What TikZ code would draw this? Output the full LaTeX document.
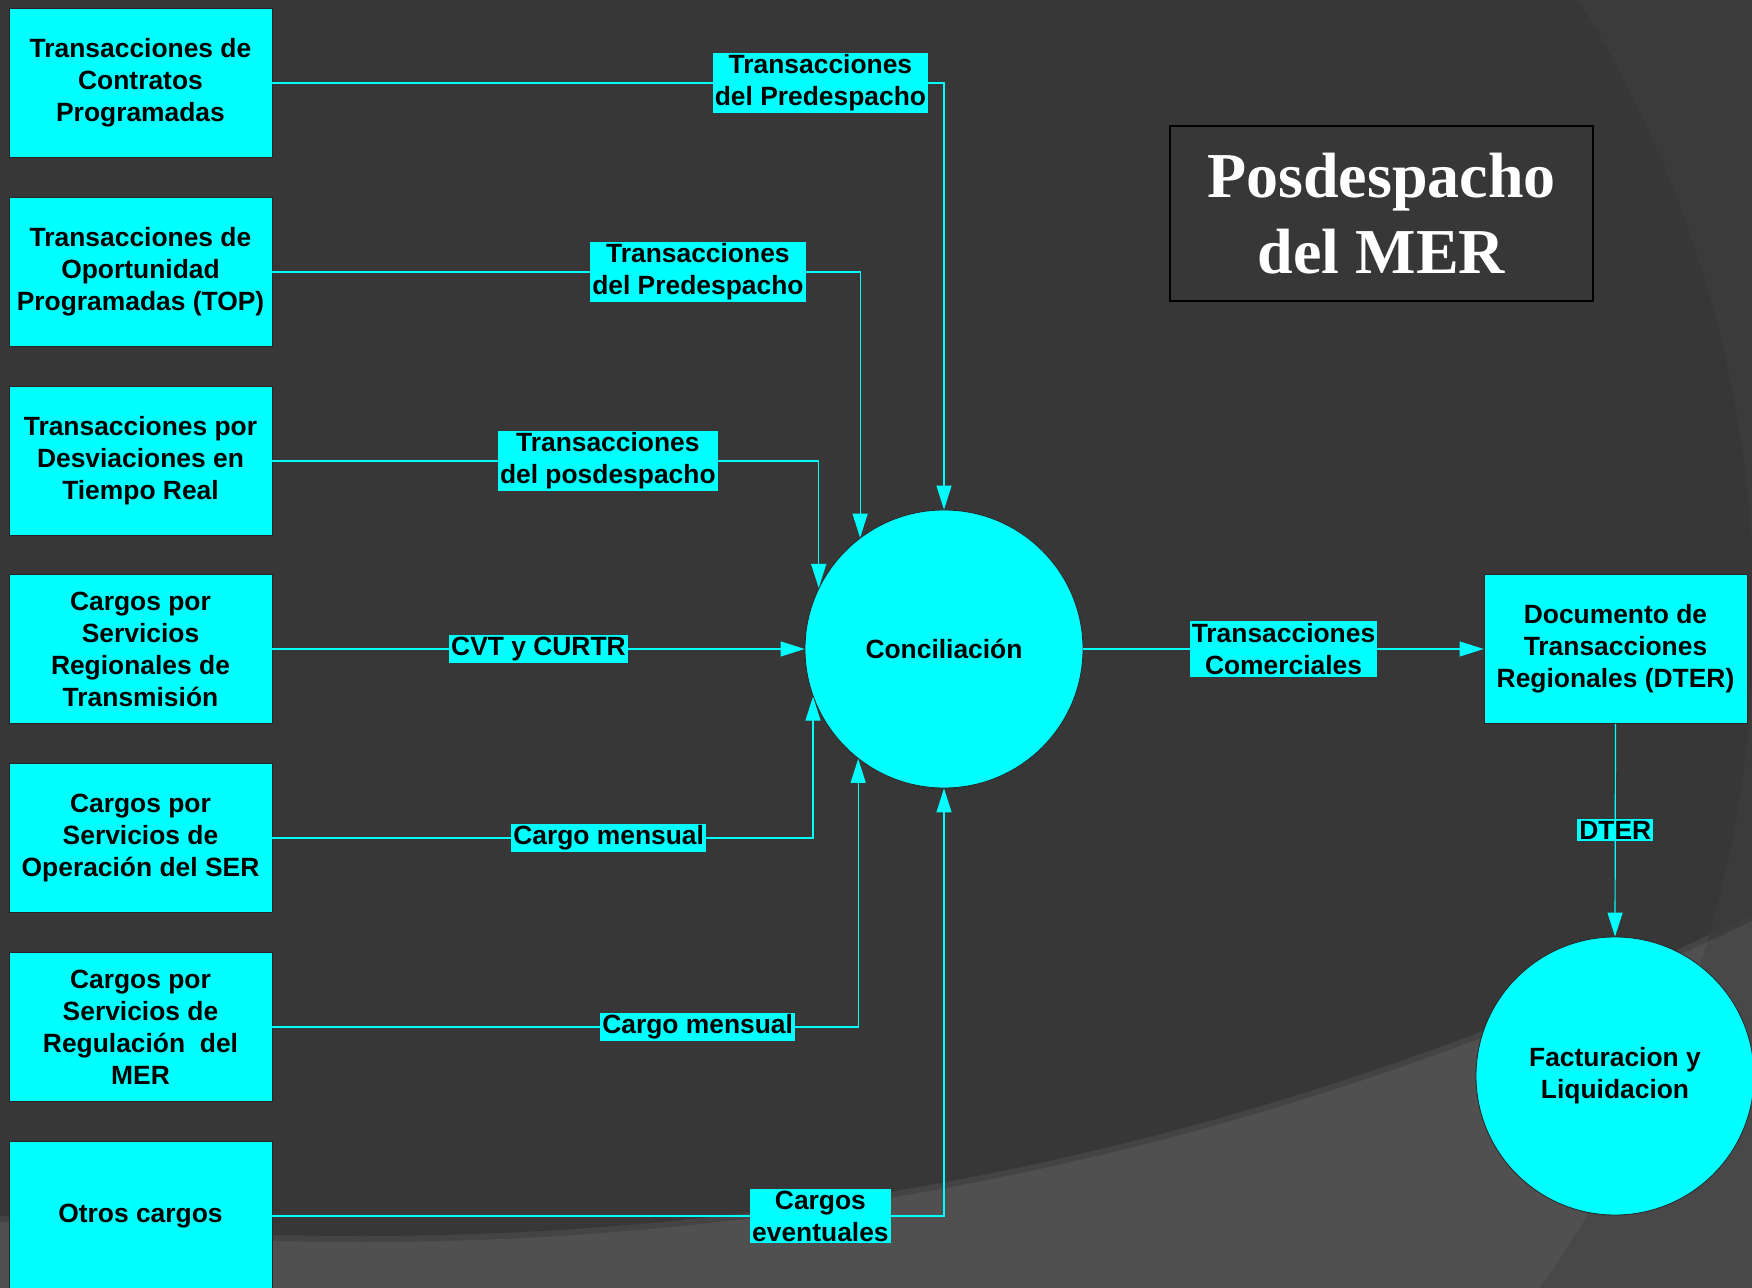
\documentclass[tikz,border=0pt]{standalone}
\usepackage{fontspec}
\setmainfont{Liberation Sans}
\newfontfamily\titlefont{Liberation Serif}
\usepackage{tikz}
\usetikzlibrary{arrows.meta}
\definecolor{aqua}{RGB}{0,255,255}
\definecolor{fondo}{RGB}{55,55,55}
\definecolor{fondoclaro}{RGB}{80,80,80}
\definecolor{fondoarco}{RGB}{59,59,59}
\definecolor{fondoesq}{RGB}{72,72,72}
\newcommand{\txt}{\fontsize{13.2}{16}\selectfont\bfseries}

\tikzset{
  caja/.style={draw=black!85, fill=aqua, minimum width=131.5pt, minimum height=74.5pt,
    inner sep=2pt, align=center, font=\txt},
  proceso/.style={circle, draw=black!85, fill=aqua, minimum size=139pt, inner sep=0pt,
    align=center, font=\txt},
  etiqueta/.style={fill=aqua, text=black, inner sep=1pt, align=center, font=\txt},
  flujo/.style={aqua, line width=0.6pt, -{Triangle[length=12pt,width=7.5pt]}}
}

\begin{document}
\begin{tikzpicture}[x=0.5pt,y=-0.5pt]
  \useasboundingbox (0,0) rectangle (1752,1288);
  % fondo
  \begin{scope}
    \clip (0,0) rectangle (1752,1288);
    \fill[fondoclaro] (0,0) rectangle (1752,1288);
    \fill[fondoesq, even odd rule] (0,0) rectangle (1752,1288) (590,615) circle[radius=1164];
    \fill[fondo] (361,-1921) circle[radius=3157];
    \draw[black, opacity=0.15, line width=3pt] (361,-1921) circle[radius=3160];
    \clip (361,-1921) circle[radius=3157];
    \fill[fondoarco, even odd rule] (0,0) rectangle (1752,1288) (590,615) circle[radius=1164];
  \end{scope}

  % cajas de entrada
  \node[caja] (tcp) at (140.5,83) {Transacciones de\\Contratos\\Programadas};
  \node[caja] (top) at (140.5,272) {Transacciones de\\Oportunidad\\Programadas (TOP)};
  \node[caja] (tdr) at (140.5,461) {Transacciones por\\Desviaciones en\\Tiempo Real};
  \node[caja] (csr) at (140.5,649) {Cargos por\\Servicios\\Regionales de\\Transmisión};
  \node[caja] (cso) at (140.5,838) {Cargos por\\Servicios de\\Operación del SER};
  \node[caja] (csm) at (140.5,1027) {Cargos por\\Servicios de\\Regulación~~del\\MER};
  \node[caja] (otros) at (140.5,1216) {Otros cargos};

  \node[proceso] (conc) at (944,649) {Conciliación};
  \node[caja] (dter) at (1615.5,649) {Documento de\\Transacciones\\Regionales (DTER)};
  \node[proceso] (fact) at (1615,1076) {Facturacion y\\Liquidacion};

  \node[draw=black, line width=1pt, minimum width=211.5pt, minimum height=87.5pt,
    text=white, align=center, font=\titlefont\fontsize{32}{38}\selectfont\bfseries]
    (titulo) at (1381.5,213.5) {Posdespacho\\del MER};

  % flujos
  \draw[flujo] (tcp.east) -| node[etiqueta, pos=0.408] {Transacciones\\del Predespacho} (conc.north);
  \draw[flujo] (top.east) -| node[etiqueta, pos=0.362] {Transacciones\\del Predespacho} (conc.127.2);
  \draw[flujo] (tdr.east) -| node[etiqueta, pos=0.307] {Transacciones\\del posdespacho} (conc.154.1);
  \draw[flujo] (csr.east) -- node[etiqueta] {CVT y CURTR} (conc.west);
  \draw[flujo] (cso.east) -| node[etiqueta, pos=0.311] {Cargo mensual} (conc.200.7);
  \draw[flujo] (csm.east) -| node[etiqueta, pos=0.363] {Cargo mensual} (conc.232.3);
  \draw[flujo] (otros.east) -| node[etiqueta, pos=0.408] {Cargos\\eventuales} (conc.south);
  \draw[flujo] (conc.east) -- node[etiqueta] {Transacciones\\Comerciales} (dter.west);
  \draw[flujo] (dter.south) -- node[etiqueta] {DTER} (fact.north);
\end{tikzpicture}
\end{document}
